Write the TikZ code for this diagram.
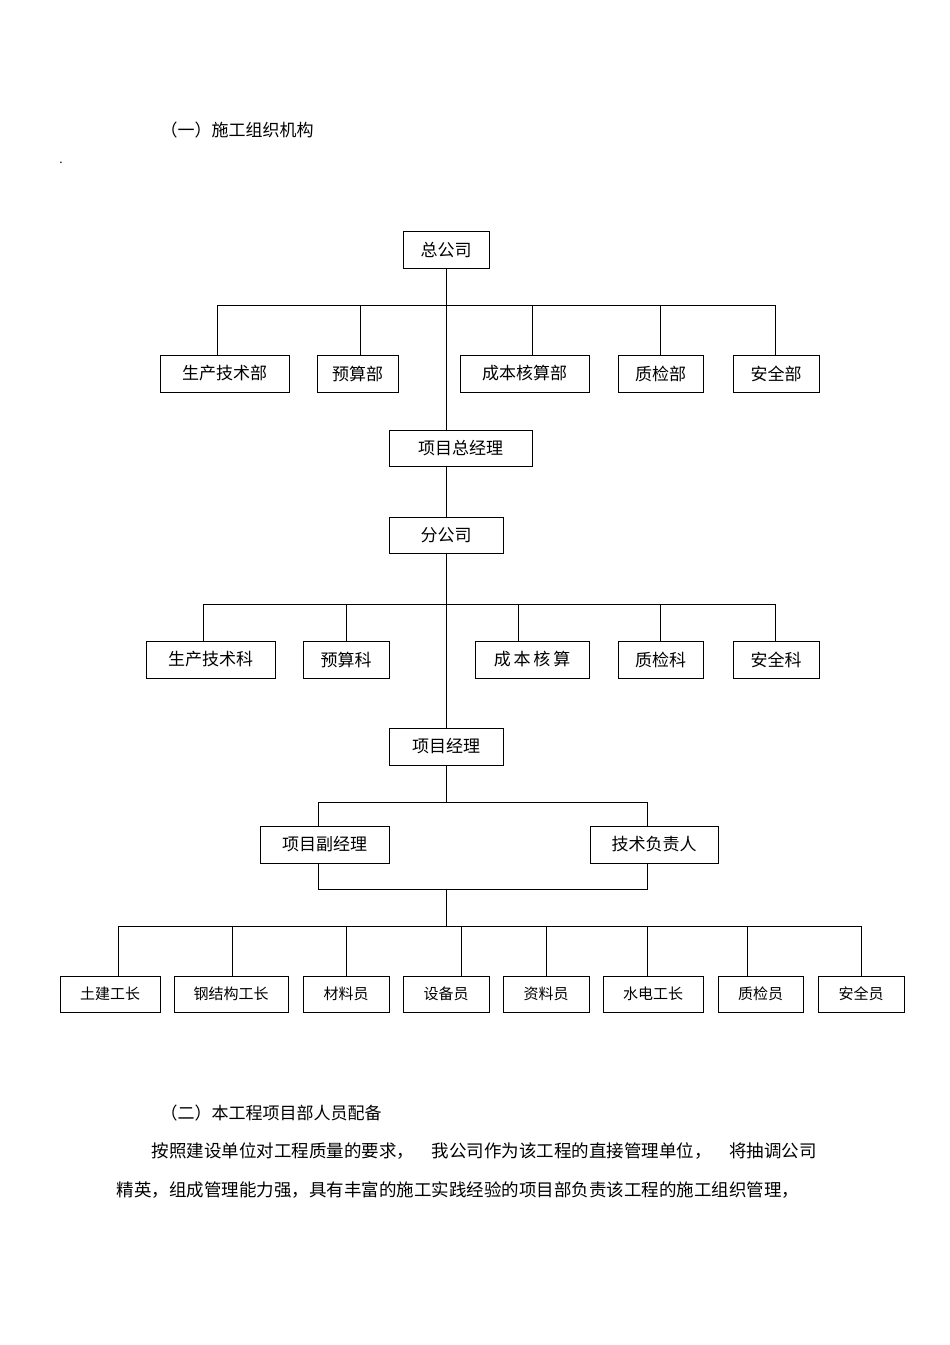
\documentclass[tikz,border=0pt]{standalone}
\usepackage{fontspec}
\setmainfont{Noto Sans CJK SC}
\begin{document}
\begin{tikzpicture}[x=1pt,y=-1pt,
 box/.style={draw,line width=0.8pt,inner sep=0pt,font=\fontsize{17}{19}\selectfont},
 sbox/.style={draw,line width=0.8pt,inner sep=0pt,font=\fontsize{15}{17}\selectfont},
 ln/.style={line width=0.8pt}]
\useasboundingbox (0,0) rectangle (950,1345);
\newcommand{\bx}[7]{\node[#1,minimum width=#5-#3,minimum height=#6-#4] (#2) at ({(#3+#5)/2},{(#4+#6)/2}) {#7};}
\node[anchor=west,font=\fontsize{17}{19}\selectfont] (t1) at (157,130) {（一）施工组织机构};
\node[font=\fontsize{12}{14}\selectfont] (dot) at (61,163) {.};
\bx{box}{zgs}{403}{231}{489}{268}{总公司}
\bx{box}{a1}{160}{355}{289}{392}{生产技术部}
\bx{box}{a2}{317}{355}{398}{392}{预算部}
\bx{box}{a3}{460}{355}{589}{392}{成本核算部}
\bx{box}{a4}{618}{355}{703}{392}{质检部}
\bx{box}{a5}{733}{355}{819}{392}{安全部}
\bx{box}{xmzjl}{389}{430}{532}{466}{项目总经理}
\bx{box}{fgs}{389}{517}{503}{553}{分公司}
\bx{box}{b1}{146}{641}{275}{678}{生产技术科}
\bx{box}{b2}{303}{641}{389}{678}{预算科}
\bx{box}{b3}{475}{641}{589}{678}{成\,本\,核\,算}
\bx{box}{b4}{618}{641}{703}{678}{质检科}
\bx{box}{b5}{733}{641}{819}{678}{安全科}
\bx{box}{xmjl}{389}{728}{503}{765}{项目经理}
\bx{box}{fjl}{260}{826}{389}{863}{项目副经理}
\bx{box}{jsfz}{590}{826}{718}{863}{技术负责人}
\bx{sbox}{c1}{60}{976}{160}{1012}{土建工长}
\bx{sbox}{c2}{174}{976}{288}{1012}{钢结构工长}
\bx{sbox}{c3}{303}{976}{389}{1012}{材料员}
\bx{sbox}{c4}{403}{976}{489}{1012}{设备员}
\bx{sbox}{c5}{503}{976}{589}{1012}{资料员}
\bx{sbox}{c6}{603}{976}{703}{1012}{水电工长}
\bx{sbox}{c7}{718}{976}{803}{1012}{质检员}
\bx{sbox}{c8}{818}{976}{904}{1012}{安全员}
% level 1
\draw[ln] (446,268) -- (446,430);
\draw[ln] (217,305) -- (775,305);
\foreach \x in {217,360,532,660,775} \draw[ln] (\x,305) -- (\x,355);
\draw[ln] (446,466) -- (446,517);
% level 2
\draw[ln] (446,553) -- (446,728);
\draw[ln] (203,604) -- (775,604);
\foreach \x in {203,346,518,660,775} \draw[ln] (\x,604) -- (\x,641);
% level 3
\draw[ln] (446,765) -- (446,802);
\draw[ln] (318,826) -- (318,802) -- (647,802) -- (647,826);
\draw[ln] (318,863) -- (318,889) -- (647,889) -- (647,863);
\draw[ln] (446,889) -- (446,926);
\draw[ln] (118,926) -- (861,926);
\foreach \x in {118,232,346,461,546,647,747,861} \draw[ln] (\x,926) -- (\x,976);
\node[anchor=west,font=\fontsize{17}{19}\selectfont] (t2) at (157,1113) {（二）本工程项目部人员配备};
\node[anchor=west,font=\fontsize{17.5}{20}\selectfont] (p1) at (148,1151) {按照建设单位对工程质量的要求，\quad 我公司作为该工程的直接管理单位，\quad 将抽调公司};
\node[anchor=west,font=\fontsize{17.5}{20}\selectfont] (p2) at (113,1190) {精英，组成管理能力强，具有丰富的施工实践经验的项目部负责该工程的施工组织管理，};
\end{tikzpicture}
\end{document}
